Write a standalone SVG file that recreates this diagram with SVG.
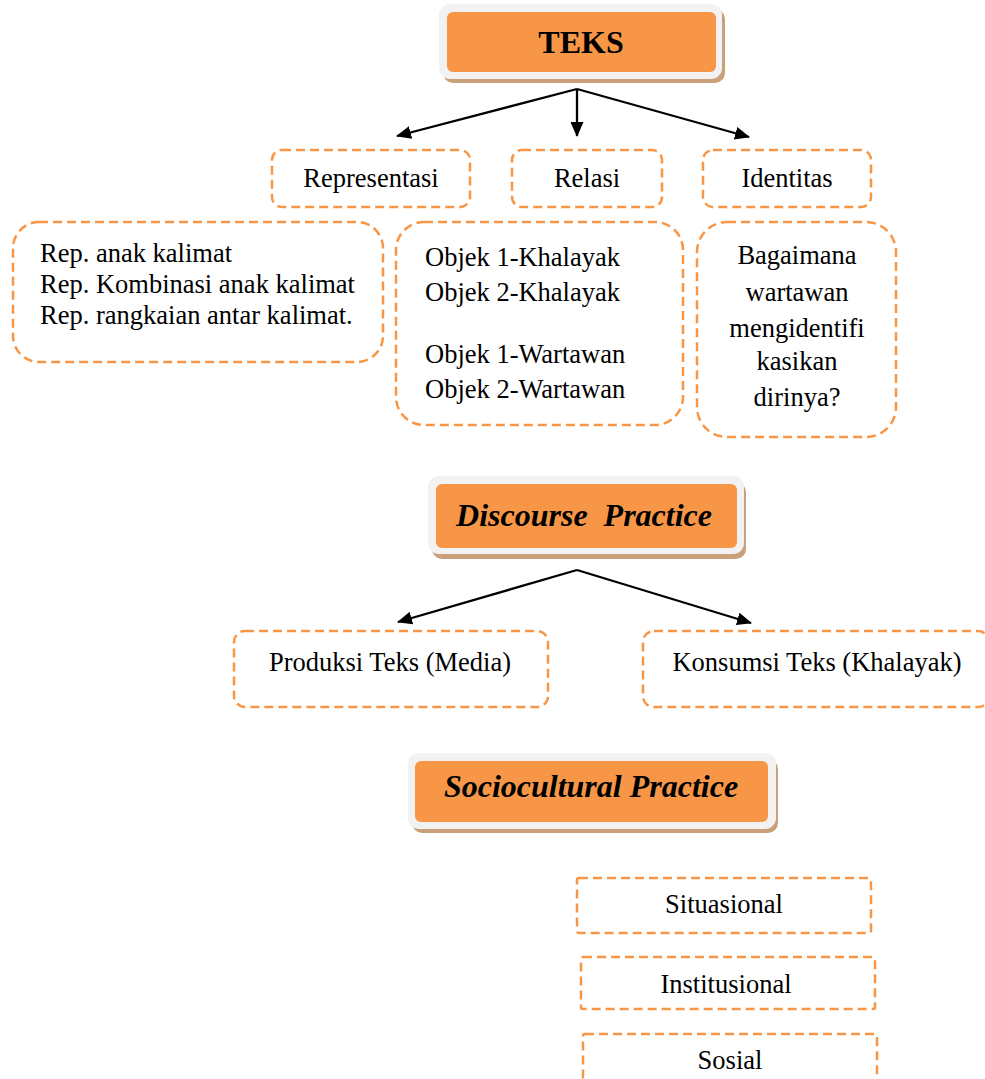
<svg xmlns="http://www.w3.org/2000/svg" width="985" height="1079" viewBox="0 0 985 1079">
<defs>
<marker id="ah" markerWidth="15" markerHeight="13" refX="14" refY="6.5" orient="auto" markerUnits="userSpaceOnUse">
<path d="M0,0 L15,6.5 L0,13 Z" fill="#000"/>
</marker>
<style>
.dash{fill:#fff;stroke:#F79646;stroke-width:2.5;stroke-dasharray:9,5}
.shadow{fill:#C9A07A}
.outer{fill:#F2F2F2}
.inner{fill:#F79646}
.t{font-family:"Liberation Serif","Times New Roman",serif;font-size:26.5px;fill:#000}
.c{text-anchor:middle}
.title{font-family:"Liberation Serif","Times New Roman",serif;font-size:32px;font-weight:bold;fill:#000;text-anchor:middle}
.it{font-style:italic}
.conn{stroke:#000;stroke-width:2.3;fill:none}
</style>
</defs>
<rect width="985" height="1079" fill="#fff"/>

<g id="teks">
<rect class="shadow" x="443" y="9" width="282" height="74" rx="10"/>
<rect class="outer" x="439" y="4" width="283" height="75" rx="11"/>
<rect class="inner" x="447" y="12" width="269" height="60" rx="6"/>
<text class="title" x="581" y="53">TEKS</text>
</g>

<g id="representasi">
<rect class="dash" x="272" y="150" width="198" height="57" rx="10"/>
<text class="t c" x="371" y="187">Representasi</text>
</g>
<g id="relasi">
<rect class="dash" x="512" y="150" width="150" height="57" rx="10"/>
<text class="t c" x="587" y="187">Relasi</text>
</g>
<g id="identitas">
<rect class="dash" x="703" y="150" width="168" height="57" rx="10"/>
<text class="t c" x="787" y="187">Identitas</text>
</g>

<g id="rep-detail">
<rect class="dash" x="13" y="222" width="370" height="140" rx="26"/>
<text class="t" x="40" y="262">Rep. anak kalimat</text>
<text class="t" x="40" y="293">Rep. Kombinasi anak kalimat</text>
<text class="t" x="40" y="324">Rep. rangkaian antar kalimat.</text>
</g>

<g id="relasi-detail">
<rect class="dash" x="396" y="222" width="287" height="203" rx="28"/>
<text class="t" x="425" y="266">Objek 1-Khalayak</text>
<text class="t" x="425" y="301">Objek 2-Khalayak</text>
<text class="t" x="425" y="363">Objek 1-Wartawan</text>
<text class="t" x="425" y="398">Objek 2-Wartawan</text>
</g>

<g id="identitas-detail">
<rect class="dash" x="697" y="222" width="199" height="215" rx="30"/>
<text class="t c" x="797" y="264">Bagaimana</text>
<text class="t c" x="797" y="301">wartawan</text>
<text class="t c" x="797" y="337">mengidentifi</text>
<text class="t c" x="797" y="370">kasikan</text>
<text class="t c" x="797" y="406">dirinya?</text>
</g>

<g id="discourse">
<rect class="shadow" x="432" y="482" width="314" height="77" rx="10"/>
<rect class="outer" x="428" y="476" width="316" height="78" rx="11"/>
<rect class="inner" x="436" y="484" width="301" height="64" rx="6"/>
<text class="title it" x="584" y="526" xml:space="preserve">Discourse  Practice</text>
</g>

<g id="produksi">
<rect class="dash" x="234" y="631" width="314" height="76" rx="11"/>
<text class="t c" x="390" y="671">Produksi Teks (Media)</text>
</g>
<g id="konsumsi">
<rect class="dash" x="643" y="631" width="346" height="76" rx="11"/>
<text class="t c" x="817" y="671">Konsumsi Teks (Khalayak)</text>
</g>

<g id="sociocultural">
<rect class="shadow" x="412" y="759" width="366" height="74" rx="10"/>
<rect class="outer" x="408" y="753" width="368" height="76" rx="11"/>
<rect class="inner" x="415" y="761" width="353" height="61" rx="6"/>
<text class="title it" x="591" y="797">Sociocultural Practice</text>
</g>

<g id="situasional">
<rect class="dash" x="577" y="878" width="294" height="55" rx="2"/>
<text class="t c" x="724" y="913">Situasional</text>
</g>
<g id="institusional">
<rect class="dash" x="581" y="957" width="294" height="52" rx="2"/>
<text class="t c" x="726" y="993">Institusional</text>
</g>
<g id="sosial">
<rect class="dash" x="583" y="1034" width="294" height="60" rx="2"/>
<text class="t c" x="730" y="1069">Sosial</text>
</g>

<g id="connectors">
<line class="conn" x1="577" y1="89" x2="397" y2="136" marker-end="url(#ah)"/>
<line class="conn" x1="577" y1="89" x2="577" y2="136" marker-end="url(#ah)"/>
<line class="conn" x1="577" y1="89" x2="749" y2="137" marker-end="url(#ah)"/>
<line class="conn" x1="577" y1="570" x2="398" y2="622" marker-end="url(#ah)"/>
<line class="conn" x1="577" y1="570" x2="751" y2="623" marker-end="url(#ah)"/>
</g>
</svg>
